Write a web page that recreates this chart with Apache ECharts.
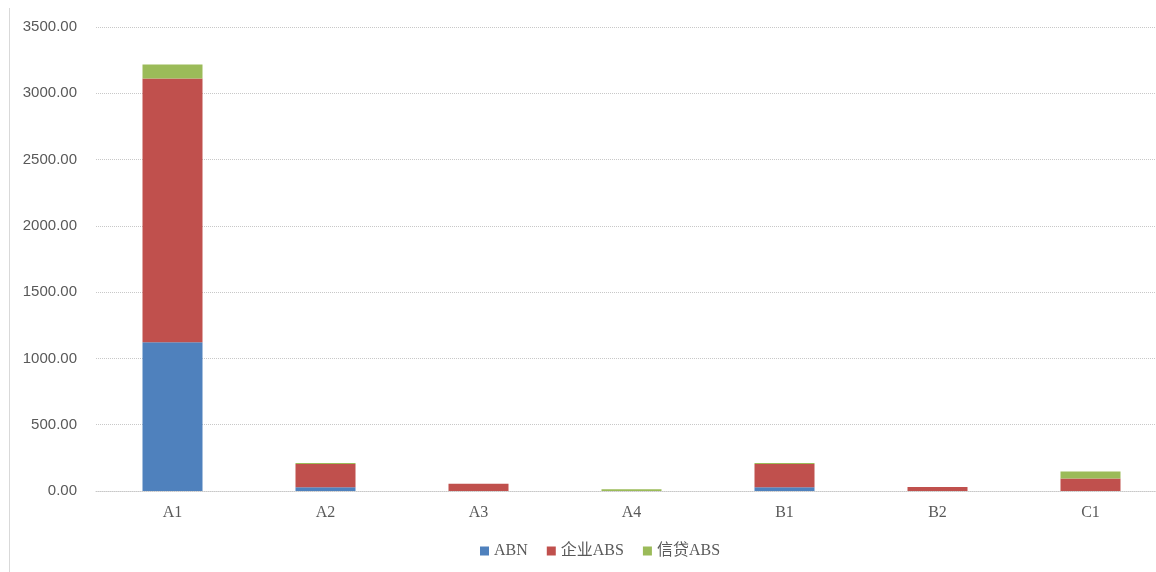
<!DOCTYPE html>
<html>
<head>
<meta charset="utf-8">
<script src="https://cdn.jsdelivr.net/npm/echarts@6/dist/echarts.min.js"></script>
<style>
  html, body { margin: 0; padding: 0; background: #fff; }
  #chart { width: 1156px; height: 572px; }
  #edge { position: absolute; left: 9px; top: 8px; width: 0; height: 564px; border-left: 1px solid #d9d9d9; }
</style>
</head>
<body>
<div id="edge"></div>
<div id="chart"></div>
<script>
let categories = ['A1', 'A2', 'A3', 'A4', 'B1', 'B2', 'C1'];
let seriesNames = ['ABN', '企业ABS', '信贷ABS'];
let abn = [1122, 28, 0, 0, 28, 0, 0];
let corpAbs = [1990, 176, 55, 0, 176, 30, 95];
let creditAbs = [105, 8, 0, 14, 8, 0, 53];
let colors = ['#4F81BD', '#C0504D', '#9BBB59'];

let chart = echarts.init(document.getElementById('chart'));
let values = [abn, corpAbs, creditAbs];
let series = [];
for (let i = 0; i < seriesNames.length; i++) {
    series.push({
        name: seriesNames[i],
        type: 'bar',
        stack: 'total',
        barWidth: 60,
        itemStyle: {
            color: colors[i]
        },
        data: values[i]
    });
}

chart.setOption({
    animation: false,
    color: colors,
    grid: {
        left: 96,
        top: 27,
        width: 1071,
        height: 464,
        outerBoundsMode: 'none'
    },
    legend: {
        bottom: 8,
        left: 475,
        itemWidth: 9,
        itemHeight: 9,
        itemGap: 19,
        icon: 'rect',
        textStyle: {
            fontFamily: '"Liberation Serif", "Noto Sans CJK SC", serif',
            fontSize: 16,
            color: '#595959'
        },
        data: seriesNames
    },
    xAxis: {
        type: 'category',
        data: categories,
        axisLine: { lineStyle: { color: '#c8c8c8', type: 'dotted', width: 1 } },
        axisTick: { show: false },
        axisLabel: {
            margin: 14,
            fontFamily: '"Liberation Serif", serif',
            fontSize: 16,
            color: '#595959'
        }
    },
    yAxis: {
        type: 'value',
        min: 0,
        max: 3500,
        interval: 500,
        axisLine: { show: false },
        axisTick: { show: false },
        splitLine: { lineStyle: { color: '#c8c8c8', type: 'dotted', width: 1 } },
        axisLabel: {
            margin: 19,
            fontFamily: '"Liberation Sans", sans-serif',
            fontSize: 15,
            color: '#595959',
            formatter: function (value) {
                return value.toFixed(2);
            }
        }
    },
    series: series
});
</script>
</body>
</html>
